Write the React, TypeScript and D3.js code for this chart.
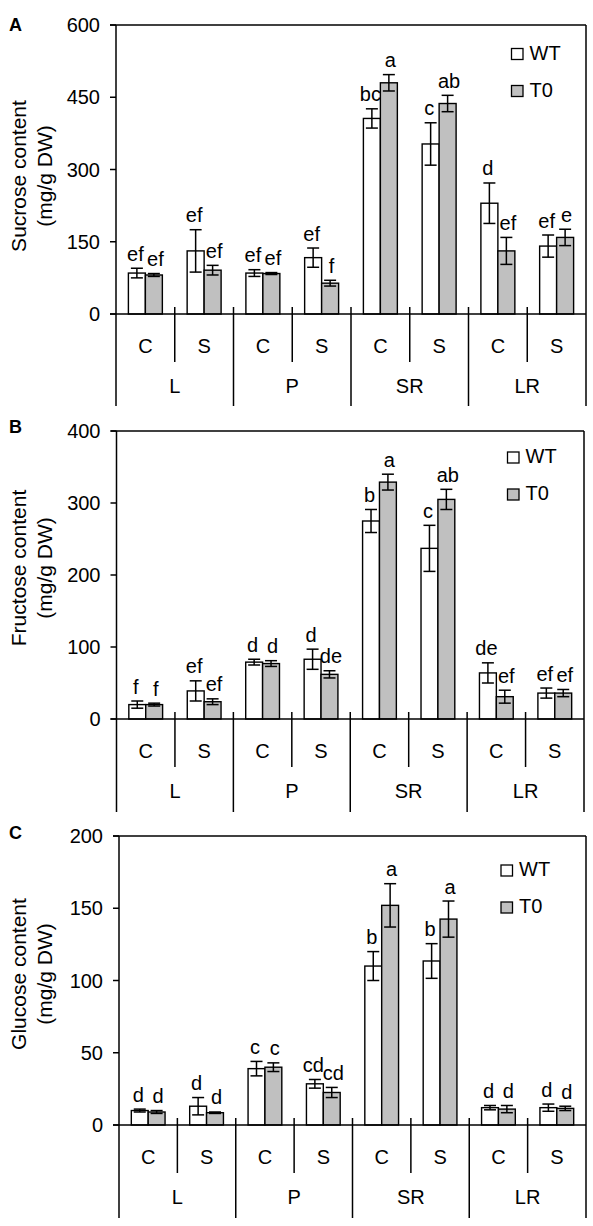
import React from "react";
import * as d3 from "d3";

// ---------- data ----------
const groups = ["L", "P", "SR", "LR"];
const treatments = ["C", "S"];
const seriesNames = ["WT", "T0"];

const sucroseWT = [85, 131, 85, 117, 406, 353, 230, 141];
const sucroseWTErr = [10, 44, 7, 20, 20, 44, 42, 23];
const sucroseT0 = [81, 91, 84, 64, 480, 437, 131, 159];
const sucroseT0Err = [3, 10, 2, 6, 17, 17, 28, 17];
const sucroseWTLetters = ["ef", "ef", "ef", "ef", "bc", "c", "d", "ef"];
const sucroseT0Letters = ["ef", "ef", "ef", "f", "a", "ab", "ef", "e"];
const sucroseTicks = [0, 150, 300, 450, 600];

const fructoseWT = [20, 39, 79, 83, 275, 237, 64, 36];
const fructoseWTErr = [5, 14, 4, 14, 16, 32, 14, 7];
const fructoseT0 = [20, 24, 77, 62, 329, 305, 31, 36];
const fructoseT0Err = [2, 4, 4, 5, 11, 14, 9, 5];
const fructoseWTLetters = ["f", "ef", "d", "d", "b", "c", "de", "ef"];
const fructoseT0Letters = ["f", "ef", "d", "de", "a", "ab", "ef", "ef"];
const fructoseTicks = [0, 100, 200, 300, 400];

const glucoseWT = [10, 13, 39, 28.5, 110, 113.5, 12, 12];
const glucoseWTErr = [1, 6, 5, 3, 10, 12, 1.5, 2.5];
const glucoseT0 = [9, 8.5, 40, 22.5, 152, 142.5, 11, 11.5];
const glucoseT0Err = [1, 0.5, 3, 3.5, 15, 12.5, 2.5, 1.5];
const glucoseWTLetters = ["d", "d", "c", "cd", "b", "b", "d", "d"];
const glucoseT0Letters = ["d", "d", "c", "cd", "a", "a", "d", "d"];
const glucoseTicks = [0, 50, 100, 150, 200];

const yTitles = ["Sucrose content", "Fructose content", "Glucose content"];
const yUnit = "(mg/g DW)";
const panelLetters = ["A", "B", "C"];

// ---------- layout (geometry only) ----------
const layouts = [
  { left: 116, right: 586, top: 25, zero: 314, bottom: 406, legX: 511.5, legY: 48.5, yLabelY: 176, letterY: 31 },
  { left: 116.5, right: 584, top: 431, zero: 719, bottom: 812, legX: 507.5, legY: 452, yLabelY: 568, letterY: 433 },
  { left: 119, right: 586, top: 836, zero: 1125, bottom: 1218, legX: 501, legY: 865, yLabelY: 974, letterY: 839 },
];

const FONT = "'Liberation Sans', Arial, Helvetica, sans-serif";
const GRAY = "#c0c0c0";

type PanelData = {
  wt: number[]; wtErr: number[]; t0: number[]; t0Err: number[];
  wtLetters: string[]; t0Letters: string[]; ticks: number[];
  title: string; letter: string;
};

const panelData: PanelData[] = [
  { wt: sucroseWT, wtErr: sucroseWTErr, t0: sucroseT0, t0Err: sucroseT0Err, wtLetters: sucroseWTLetters, t0Letters: sucroseT0Letters, ticks: sucroseTicks, title: yTitles[0], letter: panelLetters[0] },
  { wt: fructoseWT, wtErr: fructoseWTErr, t0: fructoseT0, t0Err: fructoseT0Err, wtLetters: fructoseWTLetters, t0Letters: fructoseT0Letters, ticks: fructoseTicks, title: yTitles[1], letter: panelLetters[1] },
  { wt: glucoseWT, wtErr: glucoseWTErr, t0: glucoseT0, t0Err: glucoseT0Err, wtLetters: glucoseWTLetters, t0Letters: glucoseT0Letters, ticks: glucoseTicks, title: yTitles[2], letter: panelLetters[2] },
];

const slots = groups.flatMap((g) => treatments.map((t) => `${g}-${t}`));

function Panel({ d, L }: { d: PanelData; L: typeof layouts[number] }) {
  const y = d3.scaleLinear().domain([0, d3.max(d.ticks) as number]).range([L.zero, L.top]);
  const x = d3.scaleBand().domain(slots).range([L.left, L.right]).paddingInner(0).paddingOuter(0);
  const xs = d3.scaleBand().domain(seriesNames).range([0, x.bandwidth()]).paddingInner(0).paddingOuter(0.73);
  const bw = xs.bandwidth();
  const capW = 12;
  const sw = 1.5;

  const series = [
    { name: "WT", vals: d.wt, errs: d.wtErr, letters: d.wtLetters, fill: "#ffffff", dx: -1.5 },
    { name: "T0", vals: d.t0, errs: d.t0Err, letters: d.t0Letters, fill: GRAY, dx: 1.5 },
  ];

  return (
    <g>
      {/* panel letter */}
      <text x={9} y={L.letterY} fontSize={18} fontWeight="bold" fontFamily={FONT}>{d.letter}</text>
      {/* y label */}
      <text transform={`translate(26,${L.yLabelY}) rotate(-90)`} textAnchor="middle" fontSize={21} fontFamily={FONT}>{d.title}</text>
      <text transform={`translate(52,${L.yLabelY}) rotate(-90)`} textAnchor="middle" fontSize={21} fontFamily={FONT}>{yUnit}</text>

      {/* bars */}
      {slots.map((s, i) =>
        series.map((se) => {
          const bx = (x(s) as number) + (xs(se.name) as number);
          const v = se.vals[i];
          return (
            <rect key={`${s}-${se.name}`} x={bx} y={y(v)} width={bw} height={L.zero - y(v)}
              fill={se.fill} stroke="#000" strokeWidth={1.4} />
          );
        })
      )}
      {/* error bars */}
      {slots.map((s, i) =>
        series.map((se) => {
          const cx = (x(s) as number) + (xs(se.name) as number) + bw / 2;
          const v = se.vals[i];
          const e = se.errs[i];
          return (
            <g key={`e-${s}-${se.name}`} stroke="#000" strokeWidth={sw}>
              <line x1={cx} x2={cx} y1={y(v + e)} y2={y(Math.max(0, v - e))} />
              <line x1={cx - capW / 2} x2={cx + capW / 2} y1={y(v + e)} y2={y(v + e)} />
              <line x1={cx - capW / 2} x2={cx + capW / 2} y1={y(Math.max(0, v - e))} y2={y(Math.max(0, v - e))} />
            </g>
          );
        })
      )}
      {/* significance letters */}
      {slots.map((s, i) =>
        series.map((se) => {
          const cx = (x(s) as number) + (xs(se.name) as number) + bw / 2 + se.dx;
          return (
            <text key={`l-${s}-${se.name}`} x={cx} y={y(se.vals[i] + se.errs[i]) - 7.5}
              textAnchor="middle" fontSize={20} fontFamily={FONT}>{se.letters[i]}</text>
          );
        })
      )}

      {/* frame */}
      <g stroke="#000" strokeWidth={sw} fill="none">
        <line x1={L.left} x2={L.left} y1={L.top} y2={L.bottom} />
        <line x1={L.right} x2={L.right} y1={L.top} y2={L.bottom} />
        <line x1={L.left - 6} x2={L.right} y1={L.top} y2={L.top} />
        <line x1={L.left - 6} x2={L.right} y1={L.zero} y2={L.zero} />
        {d.ticks.map((t) => (
          <line key={`t${t}`} x1={L.left - 6} x2={L.left} y1={y(t)} y2={y(t)} />
        ))}
        {/* inner separators (C | S) */}
        {groups.map((g) => (
          <line key={`is-${g}`} x1={x(`${g}-S`)} x2={x(`${g}-S`)} y1={L.zero - 7} y2={L.zero + 48} />
        ))}
        {/* group separators */}
        {groups.slice(1).map((g) => (
          <line key={`gs-${g}`} x1={x(`${g}-C`)} x2={x(`${g}-C`)} y1={L.zero - 7} y2={L.bottom} />
        ))}
      </g>

      {/* tick labels */}
      {d.ticks.map((t) => (
        <text key={`tl${t}`} x={L.left - 16} y={y(t)} dy="0.36em" textAnchor="end" fontSize={20} fontFamily={FONT}>{t}</text>
      ))}
      {/* treatment labels */}
      {slots.map((s, i) => (
        <text key={`tr-${s}`} x={(x(s) as number) + x.bandwidth() / 2} y={L.zero + 39} textAnchor="middle" fontSize={20} fontFamily={FONT}>
          {treatments[i % 2]}
        </text>
      ))}
      {/* group labels */}
      {groups.map((g) => (
        <text key={`g-${g}`} x={(x(`${g}-C`) as number) + x.bandwidth()} y={L.zero + 79} textAnchor="middle" fontSize={20} fontFamily={FONT}>{g}</text>
      ))}

      {/* legend */}
      {series.map((se, k) => (
        <g key={`leg-${se.name}`}>
          <rect x={L.legX} y={L.legY + k * 37} width={11.5} height={11} fill={se.fill} stroke="#000" strokeWidth={1.3} />
          <text x={L.legX + 18} y={L.legY + k * 37 + 11} fontSize={20} fontFamily={FONT}>{se.name}</text>
        </g>
      ))}
    </g>
  );
}

export default function App() {
  return (
    <svg width={593} height={1226} viewBox="0 0 593 1226"
      style={{ position: "absolute", left: 0, top: 0, background: "#fff" }}>
      <rect x={0} y={0} width={593} height={1226} fill="#fff" />
      {panelData.map((d, i) => (
        <Panel key={d.letter} d={d} L={layouts[i]} />
      ))}
    </svg>
  );
}
